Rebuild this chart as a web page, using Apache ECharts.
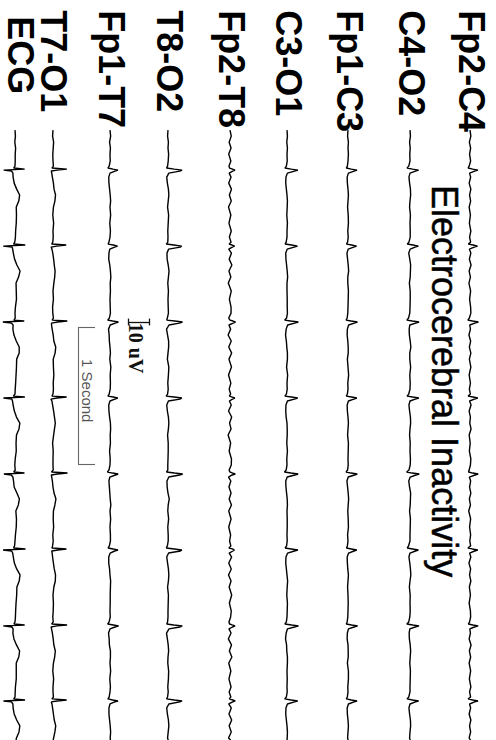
<!DOCTYPE html>
<html>
<head>
<meta charset="utf-8">
<script src="https://cdn.jsdelivr.net/npm/echarts@6/dist/echarts.min.js"></script>
<style>
  html, body { margin: 0; padding: 0; background: #fff; }
  #chart { width: 496px; height: 740px; }
</style>
</head>
<body>
<div id="chart"></div>
<script>
// ---- Montage (screen order right -> left) ----
const channelNames = ['Fp2-C4', 'C4-O2', 'Fp1-C3', 'C3-O1', 'Fp2-T8', 'T8-O2', 'Fp1-T7', 'T7-O1', 'ECG'];

// Sample instants in ms from the start of the page (denser around each heartbeat artifact)
const sampleMs = [
  0, 44, 88, 131, 175,
  226, 263, 277, 285, 292, 299, 314, 343, 387, 431, 474, 518, 562, 620, 679, 737,
  781, 818, 832, 839, 847, 854, 869, 898, 942, 985, 1029, 1073, 1117, 1175, 1234, 1292,
  1336, 1372, 1387, 1394, 1401, 1409, 1423, 1453, 1496, 1540, 1584, 1628, 1672, 1730, 1788, 1847,
  1891, 1927, 1942, 1949, 1956, 1964, 1978, 2007, 2051, 2095, 2139, 2182, 2226, 2285, 2343, 2401,
  2445, 2482, 2496, 2504, 2511, 2518, 2533, 2562, 2606, 2650, 2693, 2737, 2781, 2839, 2898, 2956,
  3000, 3036, 3051, 3058, 3066, 3073, 3088, 3117, 3161, 3204, 3248, 3292, 3336, 3394, 3453, 3511,
  3555, 3591, 3606, 3613, 3620, 3628, 3642, 3672, 3715, 3759, 3803, 3847, 3891, 3949, 4007, 4066,
  4102, 4139, 4153, 4161, 4168, 4175, 4190, 4219, 4263, 4307, 4350, 4394, 4438, 4453
];

// Amplitudes in uV, one value per sample instant
const fp2c4 = [
  0.0, 0.4, -0.3, 0.3, -0.2,
  0.3, -0.4, -0.9, 1.3, 3.8, 2.2, -0.2, 0.3, -0.4, 0.4, -0.2, 0.3, -0.4, 0.2, -0.3, 0.4,
  -0.2, 0.3, -0.8, 1.5, 3.6, 2.0, -0.3, 0.4, -0.3, 0.5, -0.4, 0.2, -0.5, 0.3, -0.2, 0.3,
  0.4, -0.3, -1.0, 1.2, 4.0, 2.3, -0.1, 0.2, -0.5, 0.3, -0.3, 0.4, -0.3, 0.4, -0.4, 0.2,
  -0.3, 0.2, -0.9, 1.4, 3.7, 2.1, -0.2, 0.5, -0.4, 0.2, -0.1, 0.5, -0.4, 0.1, -0.3, 0.4,
  0.2, -0.4, -0.7, 1.3, 3.9, 2.4, -0.3, 0.3, -0.2, 0.4, -0.3, 0.2, -0.6, 0.3, -0.2, 0.3,
  -0.1, 0.3, -1.0, 1.1, 3.7, 2.2, -0.2, 0.4, -0.5, 0.3, -0.2, 0.4, -0.3, 0.2, -0.4, 0.2,
  0.3, -0.2, -0.8, 1.4, 3.9, 2.1, -0.1, 0.2, -0.4, 0.5, -0.3, 0.3, -0.4, 0.3, -0.3, 0.4,
  -0.2, 0.3, -0.9, 1.3, 3.8, 2.2, -0.2, 0.3, -0.4, 0.4, -0.2, 0.3, -0.4, 0.2
];
const c4o2 = [
  0.0, 0.2, -0.2, 0.1, -0.1,
  0.0, -0.6, -1.4, 1.2, 4.1, 2.6, 0.0, -0.5, -0.2, 0.2, 0.3, 0.0, -0.2, 0.2, 0.0, 0.1,
  0.1, -0.5, -1.3, 1.4, 4.0, 2.4, 0.1, -0.6, -0.1, 0.3, 0.2, 0.1, -0.3, 0.1, 0.1, 0.0,
  -0.1, -0.7, -1.5, 1.1, 4.3, 2.7, -0.1, -0.4, -0.3, 0.1, 0.4, -0.1, -0.1, 0.3, -0.1, 0.1,
  0.0, -0.6, -1.4, 1.3, 4.2, 2.5, 0.0, -0.5, -0.2, 0.2, 0.3, 0.0, -0.2, 0.1, 0.0, 0.2,
  0.1, -0.5, -1.6, 1.0, 4.4, 2.8, 0.1, -0.6, -0.2, 0.3, 0.2, 0.1, -0.2, 0.2, 0.1, 0.0,
  0.0, -0.7, -1.3, 1.2, 4.0, 2.6, 0.0, -0.5, -0.1, 0.2, 0.4, 0.0, -0.3, 0.1, 0.0, 0.1,
  -0.1, -0.6, -1.5, 1.3, 4.3, 2.5, -0.1, -0.4, -0.3, 0.1, 0.3, 0.1, -0.1, 0.2, 0.1, 0.0,
  0.0, -0.6, -1.4, 1.2, 4.1, 2.6, 0.0, -0.5, -0.2, 0.2, 0.3, 0.0, -0.2, 0.1
];
const fp1c3 = [
  0.0, -0.2, 0.2, 0.0, 0.2,
  0.0, -0.3, -0.8, 1.6, 4.3, 2.9, 0.2, -0.4, -0.3, 0.0, 0.2, 0.0, -0.2, 0.1, 0.2, -0.1,
  0.1, -0.2, -0.7, 1.8, 4.1, 2.7, 0.1, -0.5, -0.2, 0.1, 0.3, -0.1, -0.1, 0.2, 0.1, 0.0,
  -0.1, -0.4, -0.9, 1.5, 4.5, 3.0, 0.3, -0.3, -0.4, -0.1, 0.1, 0.1, -0.3, 0.0, 0.3, -0.1,
  0.0, -0.3, -0.8, 1.7, 4.2, 2.8, 0.2, -0.4, -0.3, 0.0, 0.2, 0.0, -0.2, 0.2, 0.1, 0.0,
  0.1, -0.2, -0.9, 1.4, 4.4, 3.1, 0.1, -0.5, -0.2, 0.1, 0.3, 0.1, -0.1, 0.1, 0.2, -0.2,
  0.0, -0.3, -0.7, 1.6, 4.2, 2.8, 0.3, -0.4, -0.3, -0.1, 0.2, 0.0, -0.2, 0.0, 0.1, 0.0,
  -0.1, -0.4, -0.8, 1.7, 4.6, 2.9, 0.2, -0.3, -0.4, 0.0, 0.1, 0.1, -0.3, 0.2, 0.2, -0.1,
  0.0, -0.3, -0.8, 1.6, 4.3, 2.9, 0.2, -0.4, -0.3, 0.0, 0.2, 0.0, -0.2, 0.1
];
const c3o1 = [
  0.0, 0.2, -0.1, 0.2, 0.0,
  0.1, -0.3, -1.0, 2.0, 5.2, 3.6, 0.2, -0.5, -0.6, -0.3, 0.0, 0.2, 0.1, -0.1, 0.2, 0.0,
  0.0, -0.4, -0.9, 2.2, 5.0, 3.4, 0.1, -0.6, -0.5, -0.2, 0.1, 0.3, 0.0, 0.0, 0.1, 0.1,
  0.2, -0.2, -1.1, 1.8, 5.4, 3.7, 0.3, -0.4, -0.7, -0.3, -0.1, 0.2, 0.2, -0.2, 0.3, 0.0,
  0.1, -0.3, -1.0, 2.1, 5.1, 3.5, 0.2, -0.5, -0.6, -0.4, 0.0, 0.1, 0.1, -0.1, 0.2, -0.1,
  0.0, -0.4, -1.2, 1.9, 5.3, 3.8, 0.1, -0.6, -0.5, -0.2, 0.1, 0.2, 0.0, 0.1, 0.1, 0.0,
  0.1, -0.2, -0.9, 2.0, 5.2, 3.5, 0.3, -0.5, -0.6, -0.3, 0.0, 0.3, 0.1, -0.1, 0.2, 0.1,
  0.0, -0.3, -1.0, 2.2, 5.5, 3.6, 0.2, -0.4, -0.7, -0.2, -0.1, 0.2, 0.2, 0.0, 0.1, 0.0,
  0.1, -0.3, -1.1, 2.0, 5.1, 3.6, 0.2, -0.5, -0.6, -0.3, 0.0, 0.2, 0.1, 0.0
];
const fp2t8 = [
  0.0, 0.6, -0.4, 0.5, -0.6,
  0.4, -0.5, -0.2, 1.2, 2.4, 1.3, -0.4, 0.5, -0.6, 0.7, -0.3, 0.6, -0.7, 0.4, -0.5, 0.6,
  -0.3, 0.5, -0.4, 1.0, 2.2, 1.1, -0.6, 0.7, -0.4, 0.9, -0.5, 0.4, -0.8, 0.6, -0.3, 0.5,
  0.5, -0.6, 0.0, 1.4, 2.6, 1.5, -0.5, 0.3, -0.9, 0.6, -0.6, 0.8, -0.5, 0.7, -0.7, 0.4,
  -0.4, 0.3, -0.3, 1.1, 2.3, 1.2, -0.3, 0.6, -0.7, 0.8, -0.2, 0.5, -0.9, 0.3, -0.4, 0.7,
  0.6, -0.4, -0.1, 1.3, 2.5, 1.0, -0.7, 0.4, -0.5, 0.5, -0.4, 0.7, -0.6, 0.5, -0.6, 0.3,
  -0.2, 0.4, -0.5, 1.2, 2.1, 1.4, -0.4, 0.8, -0.6, 0.6, -0.7, 0.5, -0.4, 0.8, -0.3, 0.6,
  0.3, -0.5, -0.2, 1.0, 2.4, 1.2, -0.5, 0.5, -0.8, 0.7, -0.3, 0.9, -0.6, 0.4, -0.5, 0.5,
  -0.4, 0.4, -0.3, 1.3, 2.5, 1.3, -0.6, 0.6, -0.5, 0.8, -0.4, 0.6, -0.7, 0.3
];
const t8o2 = [
  0.0, -0.2, 0.2, 0.0, 0.3,
  0.1, -0.2, -0.7, 3.0, 6.7, 5.6, 0.4, -0.6, -0.3, 0.2, 0.4, 0.1, -0.2, 0.3, 0.1, -0.1,
  0.0, -0.1, -0.8, 2.8, 6.5, 5.8, 0.3, -0.5, -0.4, 0.1, 0.5, 0.2, -0.1, 0.2, 0.0, 0.1,
  0.2, -0.3, -0.6, 3.2, 6.9, 5.4, 0.5, -0.7, -0.2, 0.3, 0.3, 0.0, -0.3, 0.4, 0.2, -0.1,
  0.1, -0.2, -0.9, 2.9, 6.6, 5.7, 0.2, -0.6, -0.3, 0.2, 0.4, 0.2, -0.2, 0.1, 0.1, 0.0,
  -0.1, -0.1, -0.7, 3.1, 7.0, 5.5, 0.4, -0.5, -0.4, 0.0, 0.6, 0.1, -0.1, 0.3, -0.1, 0.1,
  0.1, -0.3, -0.8, 3.0, 6.6, 5.9, 0.3, -0.6, -0.2, 0.2, 0.4, 0.2, -0.2, 0.2, 0.1, 0.0,
  0.0, -0.2, -0.6, 2.7, 6.8, 5.6, 0.5, -0.7, -0.3, 0.1, 0.3, 0.0, -0.1, 0.3, 0.2, -0.1,
  0.1, -0.2, -0.7, 3.0, 6.7, 5.6, 0.4, -0.6, -0.3, 0.2, 0.4, 0.1, -0.2, 0.1
];
const fp1t7 = [
  0.0, 0.3, -0.2, 0.2, 0.0,
  0.1, -0.4, -1.0, 1.4, 3.8, 2.4, 0.0, -0.6, -0.5, -0.2, 0.1, 0.3, 0.0, 0.3, -0.1, 0.2,
  0.0, -0.5, -0.9, 1.6, 3.6, 2.2, -0.1, -0.5, -0.6, -0.1, 0.2, 0.4, 0.1, 0.2, 0.0, 0.1,
  0.2, -0.3, -1.1, 1.3, 4.0, 2.5, 0.1, -0.7, -0.4, -0.3, 0.0, 0.2, -0.1, 0.4, 0.1, 0.2,
  0.1, -0.4, -1.0, 1.5, 3.7, 2.3, 0.0, -0.6, -0.5, -0.2, 0.2, 0.3, 0.1, 0.2, -0.2, 0.1,
  0.0, -0.5, -1.2, 1.2, 3.9, 2.6, -0.1, -0.5, -0.3, -0.1, 0.1, 0.4, 0.0, 0.3, 0.0, 0.2,
  0.2, -0.3, -0.9, 1.4, 3.8, 2.2, 0.1, -0.6, -0.6, -0.2, 0.0, 0.3, 0.2, 0.1, 0.1, 0.0,
  0.1, -0.4, -1.1, 1.6, 4.1, 2.4, 0.0, -0.7, -0.4, -0.3, 0.2, 0.2, 0.0, 0.3, -0.1, 0.2,
  0.0, -0.4, -1.0, 1.3, 3.8, 2.3, 0.0, -0.5, -0.5, -0.2, 0.1, 0.3, 0.1, 0.2
];
const t7o1 = [
  0.0, -0.2, 0.3, 0.1, -0.1,
  0.0, 0.2, -0.5, 6.6, 2.0, -0.8, -0.6, -0.3, 0.2, 0.5, 1.2, 0.9, 0.2, -0.1, 0.3, 0.0,
  0.1, -0.1, -0.6, 6.3, 1.8, -0.9, -0.5, -0.1, 0.3, 0.6, 1.0, 0.8, 0.4, 0.0, 0.2, -0.2,
  -0.1, 0.2, -0.4, 6.8, 2.2, -0.7, -0.7, -0.4, 0.1, 0.4, 1.3, 1.0, 0.1, 0.2, 0.4, 0.1,
  0.2, 0.0, -0.5, 6.5, 1.9, -1.0, -0.5, -0.2, 0.3, 0.7, 1.1, 0.7, 0.3, -0.2, 0.1, 0.0,
  0.0, 0.1, -0.7, 6.9, 2.1, -0.8, -0.6, -0.3, 0.0, 0.5, 1.4, 0.9, 0.2, 0.1, 0.3, -0.1,
  0.1, -0.2, -0.5, 6.4, 2.3, -0.6, -0.4, -0.2, 0.2, 0.6, 1.2, 1.1, 0.4, 0.0, 0.2, 0.1,
  -0.1, 0.1, -0.6, 6.7, 1.9, -0.9, -0.7, -0.3, 0.1, 0.4, 1.1, 0.8, 0.2, -0.1, 0.3, 0.0,
  0.0, 0.2, -0.5, 6.5, 2.0, -0.8, -0.5, -0.2, 0.2, 0.6, 1.3, 0.9, 0.3, 0.1
];
const ecg = [
  0.0, 0.2, -0.1, 0.3, 0.1,
  0.1, 0.0, -0.6, 4.6, -5.4, -1.6, -1.0, -0.9, -0.4, 0.8, 2.2, 1.8, 0.6, 0.7, 0.6, 0.3,
  0.2, -0.1, -0.7, 4.9, -5.6, -1.4, -1.1, -0.8, -0.2, 0.9, 2.4, 1.7, 0.5, 0.6, 0.7, 0.2,
  0.0, 0.1, -0.5, 4.4, -5.8, -1.7, -0.9, -1.0, -0.5, 0.6, 2.0, 2.0, 0.8, 0.7, 0.5, 0.3,
  0.1, 0.0, -0.8, 4.7, -5.5, -1.5, -1.2, -0.9, -0.3, 0.7, 2.3, 1.9, 0.7, 0.5, 0.6, 0.1,
  -0.1, 0.1, -0.6, 4.5, -5.3, -1.8, -1.0, -0.7, -0.4, 0.9, 2.1, 1.6, 0.4, 0.7, 0.6, 0.2,
  0.0, -0.2, -0.7, 5.0, -5.7, -1.6, -1.1, -0.8, -0.3, 0.8, 2.4, 2.0, 0.9, 0.8, 0.5, 0.3,
  0.2, 0.0, -0.5, 4.6, -5.6, -1.5, -0.9, -1.0, -0.5, 0.7, 2.2, 1.8, 0.6, 0.6, 0.6, 0.2,
  0.1, 0.0, -0.6, 4.8, -5.5, -1.7, -1.0, -0.9, -0.4, 0.8, 2.3, 1.9, 0.7, 0.5
];
const traces = [fp2c4, c4o2, fp1c3, c3o1, fp2t8, t8o2, fp1t7, t7o1, ecg];

// Calibration marks
const calAmplitudeUv = 10;   // amplitude bar
const calDurationMs = 1000;  // time bracket
const titleText = 'Electrocerebral Inactivity';

// ---- Layout / style ----
const W = 496, H = 740;
const GAIN = 2.1;                       // screen px per uV
const lanePx = [470, 410, 348, 287, 230, 168, 110, 53, 15];
const labelShiftPx = [1, 1, 1, 1, 1, 1, 1, 0, 5.5];
const timeMin = -950, timeMax = 4453;   // ms covered from top to bottom edge
const labelStartMs = [-876, -876, -876, -876, -876, -876, -876, -876, -832];
const ampBar = { xPx: 128, tMs: 1401, capMs: 25 };
const timeBar = { xPx: 78, tMs: 1438, tickPx: 17 };
const FONT = '"Liberation Sans", Arial, Helvetica, sans-serif';

const laneX = lanePx.map(p => p / GAIN);

const traceSeries = traces.map((vals, i) => ({
  type: 'line',
  name: channelNames[i],
  data: vals.map((v, j) => [laneX[i] + v, sampleMs[j]]),
  showSymbol: false,
  symbol: 'none',
  silent: true,
  clip: false,
  lineStyle: { color: '#000', width: 1.4 },
  z: 2
}));

// amplitude bar (I-beam) and one-second bracket, in data units
const ax0 = ampBar.xPx / GAIN, ax1 = ax0 + calAmplitudeUv;
const tx0 = timeBar.xPx / GAIN, tx1 = tx0 + timeBar.tickPx / GAIN;
const t0 = timeBar.tMs, t1 = timeBar.tMs + calDurationMs;

const calSeries = [
  {
    type: 'lines',
    coordinateSystem: 'cartesian2d',
    silent: true,
    lineStyle: { color: '#111', width: 1.3, opacity: 1 },
    data: [
      { coords: [[ax0, ampBar.tMs], [ax1, ampBar.tMs]] },
      { coords: [[ax0, ampBar.tMs - ampBar.capMs], [ax0, ampBar.tMs + ampBar.capMs]] },
      { coords: [[ax1, ampBar.tMs - ampBar.capMs], [ax1, ampBar.tMs + ampBar.capMs]] }
    ]
  },
  {
    type: 'lines',
    coordinateSystem: 'cartesian2d',
    silent: true,
    lineStyle: { color: '#666', width: 1.1, opacity: 1 },
    data: [
      { coords: [[tx0, t0], [tx0, t1]] },
      { coords: [[tx0, t0], [tx1, t0]] },
      { coords: [[tx0, t1], [tx1, t1]] }
    ]
  }
];

const chart = echarts.init(document.getElementById('chart'), null, { renderer: 'svg', width: W, height: H });

chart.setOption({
  animation: false,
  backgroundColor: '#fff',
  grid: { left: 0, right: 0, top: 0, bottom: 0, containLabel: false },
  xAxis: { type: 'value', min: 0, max: W / GAIN, show: false },
  yAxis: { type: 'value', min: timeMin, max: timeMax, inverse: true, show: false },
  series: traceSeries.concat(calSeries)
});

// rotated texts, anchored through the axes
const toPx = (x, t) => chart.convertToPixel({ gridIndex: 0 }, [x, t]);
const rot = -Math.PI / 2;
const textEl = (text, pos, font, fill, align, extra) => ({
  type: 'text',
  x: pos[0], y: pos[1],
  rotation: rot,
  silent: true,
  style: Object.assign({
    text, font, fill,
    align, verticalAlign: 'middle',
    textAlign: align, textVerticalAlign: 'middle'
  }, extra || {}),
  z: 10
});

const graphics = channelNames.map((name, i) =>
  textEl(name, toPx(laneX[i] + labelShiftPx[i] / GAIN, labelStartMs[i]), 'bold 36px ' + FONT, '#000', 'left')
);
graphics.push(textEl(titleText, [444, 185], '36px ' + FONT, '#000', 'left', { stroke: '#000', lineWidth: 0.5 }));
graphics.push(textEl('10 uV', toPx(ax0 + 8 / GAIN, ampBar.tMs + 6), 'bold 20px "Liberation Serif", "Times New Roman", serif', '#111', 'left'));
graphics.push(textEl('1 Second', toPx(tx0 + 9 / GAIN, (t0 + t1) / 2 - 35), '15px ' + FONT, '#555', 'center'));

chart.setOption({ graphic: { elements: graphics } });
</script>
</body>
</html>
